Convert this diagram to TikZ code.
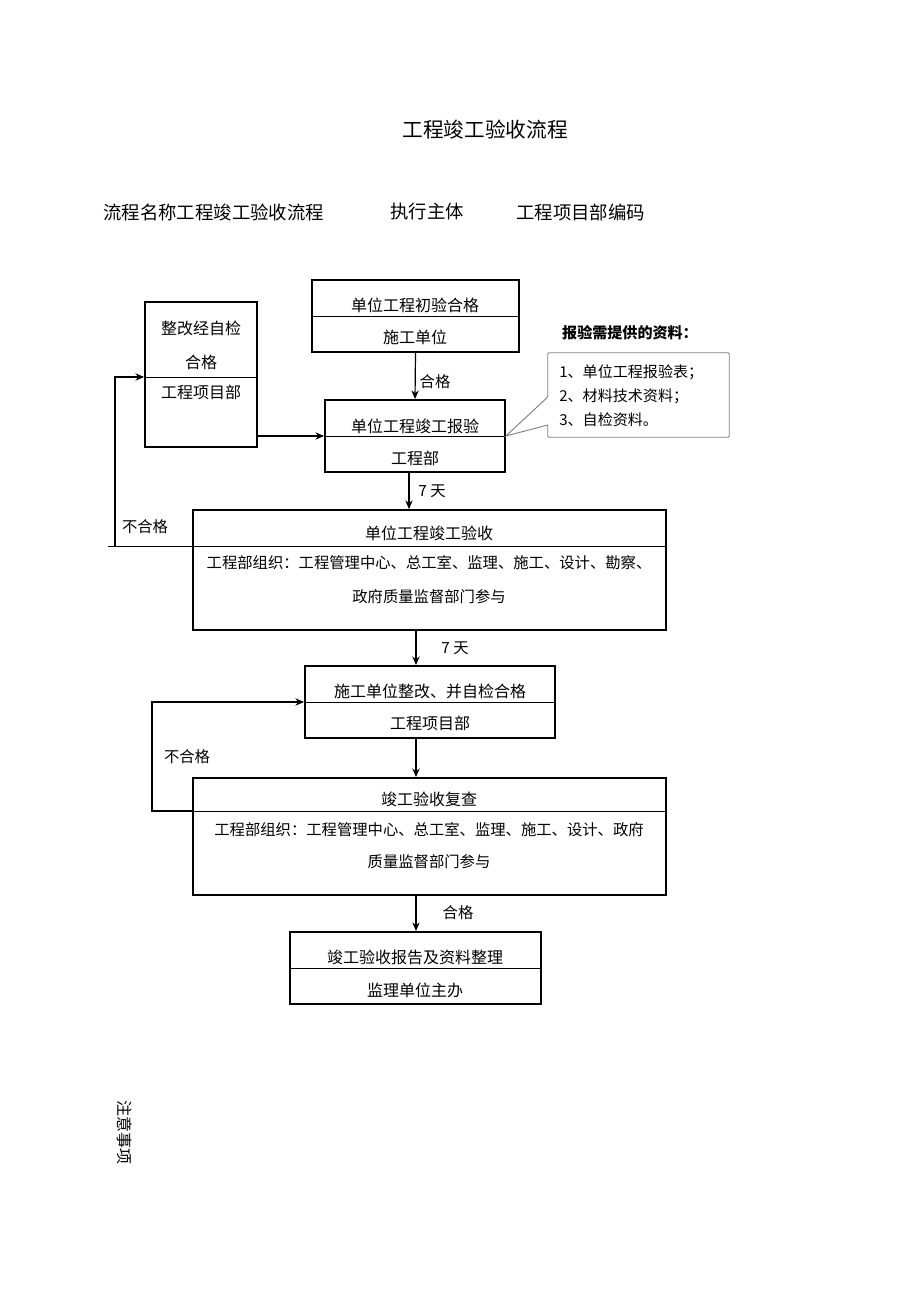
\documentclass[tikz,border=0pt]{standalone}
\usepackage{fontspec}
\setmainfont{Noto Sans CJK SC}
\usetikzlibrary{positioning}
\usetikzlibrary{calc,arrows.meta}

\tikzset{
  box/.style 2 args={draw, line width=1.4pt, minimum width=#1*0.75pt, minimum height=#2*0.75pt, inner sep=0pt},
  arr/.style={-{Stealth[length=6.5pt,width=5.5pt]}, line width=0.9pt},
  rule/.style={line width=0.7pt},
  txt/.style={font=\fontsize{12}{25.5}\selectfont, inner sep=0pt, align=center},
  lbl/.style={font=\fontsize{11.5}{14}\selectfont, inner sep=0pt},
}

\begin{document}
\begin{tikzpicture}[x=0.75pt,y=-0.75pt]
\useasboundingbox (0,0) rectangle (920,1301);

% heading
\path
(485,130) node [font=\fontsize{15.5}{18}\selectfont](title) {工程竣工验收流程}
(103,212) node [anchor=west,inner sep=0pt,font=\fontsize{13.8}{16}\selectfont](hname) {流程名称工程竣工验收流程}
(390,212) node [anchor=west,inner sep=0pt,font=\fontsize{13.8}{16}\selectfont](hzhuti) {执行主体}
(516,212) node [anchor=west,inner sep=0pt,font=\fontsize{13.8}{16}\selectfont](hbianma) {工程项目部编码};

% boxes
\path
(415.5,316) node [box={207}{72}](chuyan) {}
(201,374.5) node [box={112}{145}](zhengjian) {}
(415,436) node [box={180}{72}](baoyan) {}
(429.5,570) node [box={473}{120}](yanshou) {}
(430,702) node [box={250}{72}](zhenggai) {}
(429.5,836.5) node [box={473}{117}](fucha) {}
(415.5,968) node [box={251}{72}](baogao) {}
(638.5,395) node [minimum width=135.75pt,minimum height=63pt,inner sep=0pt](ziliao) {};

\coordinate (d1) at (0,316);
\coordinate (d2) at (0,377);
\coordinate (d3) at (0,436);
\coordinate (d4) at (0,546);
\coordinate (d5) at (0,702);
\coordinate (d6) at (0,811);
\coordinate (d7) at (0,968);

\draw [rule](chuyan.west |- d1) --(chuyan.east |- d1);
\draw [rule](zhengjian.west |- d2) --(zhengjian.east |- d2);
\draw [rule](baoyan.west |- d3) --(baoyan.east |- d3);
\draw [rule](zhenggai.west |- d5) --(zhenggai.east |- d5);
\draw [rule](fucha.west |- d6) --(fucha.east |- d6);
\draw [rule](baogao.west |- d7) --(baogao.east |- d7);

% texts in the boxes
\path
(415,305) node [txt](t1a) {单位工程初验合格}
(415,337) node [txt](t1b) {施工单位}
(201,345.5) node [txt](t2a) {整改经自检\\合格}
(201,392) node [txt](t2b) {工程项目部}
(415,426) node [txt](t3a) {单位工程竣工报验}
(415,458) node [txt](t3b) {工程部}
(429,533) node [txt](t4a) {单位工程竣工验收}
(429,580) node [txt,font=\fontsize{11.5}{25.5}\selectfont](t4b) {工程部组织：工程管理中心、总工室、监理、施工、设计、勘察、\\政府质量监督部门参与}
(430,691) node [txt](t5a) {施工单位整改、并自检合格}
(430,723) node [txt](t5b) {工程项目部}
(429,799) node [txt](t6a) {竣工验收复查}
(429,846) node [txt,font=\fontsize{11.5}{24}\selectfont](t6b) {工程部组织：工程管理中心、总工室、监理、施工、设计、政府\\质量监督部门参与}
(415,957) node [txt](t7a) {竣工验收报告及资料整理}
(415,990) node [txt](t7b) {监理单位主办};

% materials note
\path
(630,333) node [inner sep=0pt,font=\fontsize{11.3}{14}\selectfont\bfseries](ztitle) {报验需提供的资料：}
(559,396) node [anchor=west,inner sep=0pt,align=left,font=\fontsize{11.3}{18}\selectfont](zitems) {1、单位工程报验表；\\2、材料技术资料；\\3、自检资料。};
\coordinate (z1) at (0,397);
\coordinate (z2) at (0,425);
\draw [rule,draw=gray,rounded corners=1pt](ziliao.west |- z2) --(ziliao.south west) --(ziliao.south east) --(ziliao.north east) --(ziliao.north west) --(ziliao.west |- z1) [sharp corners]--(baoyan.east |- d3) --cycle;

% main flow
\coordinate (x1) at (409,0);
\coordinate (x2) at (416,0);
\draw [arr](chuyan.south) --(baoyan.north);
\node [lbl] at (435,382) {合格};
\draw [arr](zhengjian.east |- d3) --(baoyan.west |- d3);
\draw [arr](baoyan.south -| x1) --(yanshou.north -| x1);
\node [lbl] at (432,491) {7 天};
\draw [arr](yanshou.south -| x2) --(zhenggai.north -| x2);
\node [lbl] at (455,648) {7 天};
\draw [arr](zhenggai.south -| x2) --(fucha.north -| x2);
\draw [arr](fucha.south -| x2) --(baogao.north -| x2);
\node [lbl] at (458,913) {合格};

% back loops
\coordinate (fb1end) at (108,546);
\coordinate (fb1) at (115,546);
\coordinate (fb2) at (152,811);
\draw [rule](yanshou.east |- d4) --(fb1end);
\draw [arr](fb1) |-(zhengjian.west |- d2);
\node [lbl] at (145,527) {不合格};
\draw [arr](fucha.west |- d6) --(fb2) |-(zhenggai.west |- d5);
\node [lbl] at (187,757) {不合格};

\node [rotate=-90,font=\fontsize{12}{14}\selectfont] (zhuyi) at (125,1132) {注意事项};

\end{tikzpicture}
\end{document}
